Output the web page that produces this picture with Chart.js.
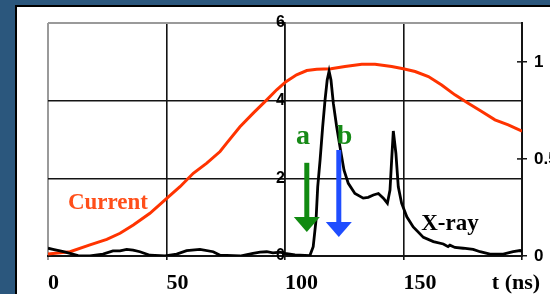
<!DOCTYPE html>
<html><head><meta charset="utf-8">
<script src="https://cdn.jsdelivr.net/npm/chart.js@4/dist/chart.umd.min.js"></script>
<style>html,body{margin:0;padding:0;overflow:hidden;background:#2b577d;}canvas{display:block}</style>
</head><body>
<canvas id="c" width="550" height="294"></canvas>
<script>
// ---- data ----
const xTicks = [0, 50, 100, 150];
const xAxisTitle = 't (ns)';
const leftTicks = [0, 2, 4, 6];
const rightTicks = [0, 0.5, 1];
const seriesLabels = ['X-ray', 'Current'];
const markerLabels = ['a', 'b'];

const currentT = [0, 9.3, 17.7, 24.8, 30.4, 36.0, 43.0, 50.1, 55.7, 61.3, 67.0, 72.6, 75.4, 81.0, 86.6, 92.3, 96.5, 100.4, 104.9, 109.2, 113.4, 119.4, 125.3, 132.4, 138.0, 145.0, 149.9, 154.9, 160.5, 166.1, 171.7, 177.3, 183.0, 188.6, 194.2, 200];
const currentVal = [0.01, 0.022, 0.057, 0.086, 0.117, 0.16, 0.22, 0.297, 0.357, 0.426, 0.478, 0.538, 0.581, 0.666, 0.736, 0.804, 0.856, 0.898, 0.933, 0.955, 0.962, 0.964, 0.976, 0.988, 0.988, 0.976, 0.964, 0.95, 0.924, 0.881, 0.83, 0.787, 0.744, 0.701, 0.675, 0.643];

const xrayT = [0, 2.1, 6.5, 9.3, 12.7, 17.7, 23.2, 27.4, 30.4, 33.2, 35.9, 38.8, 43.0, 49.4, 54.3, 58.5, 64.1, 69.7, 72.6, 81.0, 86.5, 89.5, 92.3, 94.9, 97.9, 100, 104.2, 110.5, 111.9, 113.1, 113.8, 114.8, 115.9, 116.9, 117.8, 118.6, 119.4, 120.4, 121.8, 123.2, 124.9, 126.7, 129.5, 133.0, 135.1, 137.3, 139.4, 141.5, 143.2, 144.3, 145.0, 145.7, 146.8, 147.8, 149.2, 151.4, 154.1, 158.4, 162.6, 166.8, 168.8, 169.6, 171.7, 175.2, 179.4, 182.3, 186.5, 192.1, 196.3, 199.2, 200];
const xrayVal = [0.2, 0.17, 0.11, 0.07, 0.01, 0, 0.05, 0.13, 0.13, 0.17, 0.15, 0.11, 0.02, 0, 0.05, 0.14, 0.17, 0.11, 0.02, 0, 0.07, 0.10, 0.11, 0.08, 0.1, 0.07, 0.03, 0.01, 0.24, 0.93, 1.78, 2.47, 3.33, 4.02, 4.53, 4.76, 4.53, 3.93, 3.33, 2.81, 2.21, 1.87, 1.61, 1.49, 1.51, 1.57, 1.61, 1.49, 1.36, 1.70, 2.47, 3.22, 2.64, 1.78, 1.36, 1.01, 0.75, 0.48, 0.37, 0.31, 0.24, 0.28, 0.22, 0.20, 0.17, 0.11, 0.05, 0.05, 0.11, 0.14, 0.12];

// annotation anchors in data units (x: t, y: left axis)
const annot = {
  current: {x: 25.3, y: 1.36},
  xray: {x: 169.6, y: 0.82},
  a: {x: 107.6, y: 3.06},
  b: {x: 125.1, y: 3.06},
  arrowA: {x: 109.2, from: 2.4, to: 0.62},
  arrowB: {x: 122.7, from: 2.73, to: 0.49}
};

const SERIF = '"Liberation Serif", "Times New Roman", serif';
const SANS = '"Liberation Sans", Arial, sans-serif';
const GRID = '#141414';
const GRAY = '#9a9a9a';

const bgPlugin = {
  id: 'bg',
  beforeDraw(chart) {
    const c = chart.ctx;
    c.save();
    c.fillStyle = '#2b577d';
    c.fillRect(0, 0, chart.width, chart.height);
    c.fillStyle = '#000';
    c.fillRect(15, 5, chart.width - 15, 2);
    c.fillRect(15, 5, 2, chart.height - 5);
    c.fillStyle = '#fff';
    c.fillRect(17, 7, chart.width - 17, chart.height - 7);
    c.restore();
  },
  afterDraw(chart) {
    const c = chart.ctx;
    const xs = chart.scales.x, ys = chart.scales.y, y1 = chart.scales.y1;
    c.save();
    // inward part of right-axis ticks
    c.strokeStyle = GRID; c.lineWidth = 1.5;
    rightTicks.forEach(v => {
      const py = y1.getPixelForValue(v);
      c.beginPath(); c.moveTo(xs.right - 5, py); c.lineTo(xs.right, py); c.stroke();
    });
    // axis title
    c.font = 'bold 22px ' + SERIF;
    c.fillStyle = '#000';
    c.textAlign = 'center'; c.textBaseline = 'middle';
    c.fillText(xAxisTitle, xs.getPixelForValue(200) - 6, xs.top + 4 + 10 + 13.2);
    // series labels
    c.font = 'bold 23px ' + SERIF;
    c.fillStyle = '#ff4f1a';
    c.fillText(seriesLabels[1], xs.getPixelForValue(annot.current.x), ys.getPixelForValue(annot.current.y));
    c.fillStyle = '#000';
    c.fillText(seriesLabels[0], xs.getPixelForValue(annot.xray.x), ys.getPixelForValue(annot.xray.y));
    c.font = 'bold 28px ' + SERIF;
    c.fillStyle = '#178a17';
    c.fillText(markerLabels[0], xs.getPixelForValue(annot.a.x), ys.getPixelForValue(annot.a.y));
    c.fillText(markerLabels[1], xs.getPixelForValue(annot.b.x), ys.getPixelForValue(annot.b.y));
    // arrows
    const arrow = (a, color) => {
      const px = xs.getPixelForValue(a.x);
      const p0 = ys.getPixelForValue(a.from);
      const tip = ys.getPixelForValue(a.to);
      const headH = 15, headW = 26, shaftW = 5;
      c.fillStyle = color;
      c.fillRect(px - shaftW / 2, p0, shaftW, tip - headH - p0 + 1);
      c.beginPath();
      c.moveTo(px - headW / 2, tip - headH);
      c.lineTo(px + headW / 2, tip - headH);
      c.lineTo(px, tip);
      c.closePath(); c.fill();
    };
    arrow(annot.arrowA, '#118a11');
    arrow(annot.arrowB, '#1f4dff');
    c.restore();
  }
};

new Chart(document.getElementById('c'), {
  type: 'line',
  data: {
    datasets: [
      {
        label: seriesLabels[0],
        data: xrayT.map((t, i) => ({x: t, y: xrayVal[i]})),
        yAxisID: 'y',
        borderColor: '#000', borderWidth: 2.8,
        pointRadius: 0, tension: 0
      },
      {
        label: seriesLabels[1],
        data: currentT.map((t, i) => ({x: t, y: currentVal[i]})),
        yAxisID: 'y1',
        borderColor: '#ff3300', borderWidth: 3,
        pointRadius: 0, tension: 0
      }
    ]
  },
  options: {
    responsive: false,
    animation: false,
    events: [],
    layout: {padding: {left: 48, top: 23, right: 0, bottom: 0}},
    plugins: {legend: {display: false}, tooltip: {enabled: false}},
    scales: {
      x: {
        type: 'linear', position: 'bottom', min: 0, max: 200,
        afterFit: s => { s.height = 38; },
        afterBuildTicks: s => { s.ticks = xTicks.concat([200]).map(v => ({value: v})); },
        ticks: {
          autoSkip: false, maxRotation: 0, align: 'start', padding: 10,
          color: '#000', font: {family: SERIF, size: 22, weight: 'bold'},
          callback: v => (xTicks.includes(v) ? String(v) : '')
        },
        grid: {
          color: ctx => (ctx.tick && ctx.tick.value === 0 ? GRAY : GRID),
          lineWidth: ctx => (ctx.tick && ctx.tick.value === 0 ? 2 : 1.6),
          tickLength: 4
        },
        border: {color: GRID, width: 2}
      },
      y: {
        type: 'linear', position: {x: 100}, min: 0, max: 6,
        afterBuildTicks: s => { s.ticks = leftTicks.map(v => ({value: v})); },
        ticks: {
          padding: 7, color: '#000',
          font: {family: SANS, size: 16, weight: 'bold'},
          callback: v => String(v)
        },
        grid: {
          color: ctx => (ctx.tick && ctx.tick.value === 6 ? GRAY : GRID),
          lineWidth: ctx => (ctx.tick && ctx.tick.value === 6 ? 2 : 1.6),
          tickLength: 6, tickColor: GRID
        },
        border: {color: GRID, width: 1.6}
      },
      y1: {
        type: 'linear', position: 'right', min: 0, max: 1.2,
        afterFit: s => { s.width = 28; },
        afterBuildTicks: s => { s.ticks = rightTicks.map(v => ({value: v})); },
        ticks: {
          padding: 7, color: '#000',
          font: {family: SANS, size: 17, weight: 'bold'},
          callback: v => String(v)
        },
        grid: {drawOnChartArea: false, tickLength: 5, color: GRID, lineWidth: 1.5},
        border: {color: GRID, width: 2}
      }
    }
  },
  plugins: [bgPlugin]
});
</script>
</body></html>
